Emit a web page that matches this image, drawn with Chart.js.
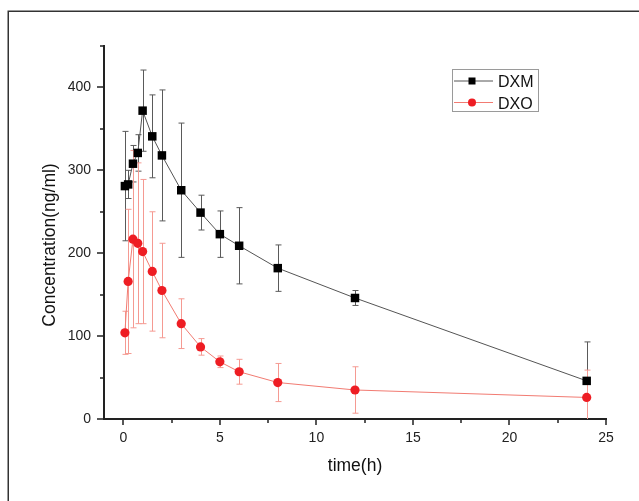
<!DOCTYPE html>
<html><head><meta charset="utf-8">
<script src="https://cdn.jsdelivr.net/npm/chart.js@4/dist/chart.umd.min.js"></script>
<style>html,body{margin:0;padding:0;background:#fff;overflow:hidden;}#wrap{width:639px;height:501px;position:relative;}</style>
</head><body><div id="wrap"><canvas id="c" width="639" height="501"></canvas></div>
<script>
const times = [0.083, 0.25, 0.5, 0.75, 1, 1.5, 2, 3, 4, 5, 6, 8, 12, 24];
const dxmMean = [281, 283, 308, 321, 372, 341, 318, 276, 249, 223, 209, 182, 146, 46];
const dxmSD   = [66, 17, 22, 22, 49, 50, 79, 81, 21, 28, 46, 28, 9, 47];
const dxoMean = [104, 166, 217, 212, 202, 178, 155, 115, 87, 69, 57, 44, 35, 26];
const dxoSD   = [26, 87, 107, 97, 87, 72, 57, 30, 10, 7, 15, 23, 28, 33];
const seriesNames = ['DXM', 'DXO'];
const xTicks = [0, 5, 10, 15, 20, 25];
const xMinorTicks = [2.5, 7.5, 12.5, 17.5, 22.5];
const yTicks = [0, 100, 200, 300, 400];
const yMinorTicks = [50, 150, 250, 350, 450];
const xTitle = 'time(h)';
const yTitle = 'Concentration(ng/ml)';

const FONT = '"Liberation Sans", Arial, sans-serif';
const errSets = [
  {mean: dxmMean, sd: dxmSD, color: '#5a5a5a'},
  {mean: dxoMean, sd: dxoSD, color: '#f59a92'}
];

const decor = {
  id: 'decor',
  beforeDraw(chart) {
    const ctx = chart.ctx;
    ctx.save();
    ctx.fillStyle = '#fff';
    ctx.fillRect(0, 0, chart.width, chart.height);
    ctx.strokeStyle = '#333';
    ctx.lineWidth = 1.5;
    ctx.strokeRect(8.25, 11.25, 800, 800);
    ctx.restore();
  },
  beforeDatasetsDraw(chart) {
    const ctx = chart.ctx, a = chart.chartArea;
    const xs = chart.scales.x, ys = chart.scales.y;
    ctx.save();
    ctx.beginPath();
    ctx.rect(a.left, a.top, a.right - a.left, a.bottom - a.top);
    ctx.clip();
    errSets.forEach(s => {
      ctx.strokeStyle = s.color;
      ctx.lineWidth = 1;
      times.forEach((t, i) => {
        const x = Math.round(xs.getPixelForValue(t)) + 0.5;
        const y1 = ys.getPixelForValue(s.mean[i] + s.sd[i]);
        const y2 = ys.getPixelForValue(s.mean[i] - s.sd[i]);
        ctx.beginPath();
        ctx.moveTo(x, y1); ctx.lineTo(x, y2);
        ctx.moveTo(x - 3, y1); ctx.lineTo(x + 3, y1);
        ctx.moveTo(x - 3, y2); ctx.lineTo(x + 3, y2);
        ctx.stroke();
      });
    });
    ctx.restore();
  },
  afterDraw(chart) {
    const ctx = chart.ctx, a = chart.chartArea;
    const xs = chart.scales.x, ys = chart.scales.y;
    ctx.save();
    // ticks
    ctx.strokeStyle = '#222';
    ctx.lineWidth = 1.5;
    ctx.beginPath();
    xTicks.forEach(v => { const x = Math.round(xs.getPixelForValue(v)); ctx.moveTo(x, a.bottom); ctx.lineTo(x, a.bottom + 6); });
    xMinorTicks.forEach(v => { const x = Math.round(xs.getPixelForValue(v)); ctx.moveTo(x, a.bottom); ctx.lineTo(x, a.bottom + 4); });
    yTicks.forEach(v => { const y = Math.round(ys.getPixelForValue(v)); ctx.moveTo(a.left, y); ctx.lineTo(a.left - 7, y); });
    yMinorTicks.forEach(v => { const y = Math.round(ys.getPixelForValue(v)); ctx.moveTo(a.left, y); ctx.lineTo(a.left - 4, y); });
    ctx.stroke();
    // axis titles
    ctx.fillStyle = '#111';
    ctx.font = '17.5px ' + FONT;
    ctx.textAlign = 'center';
    ctx.textBaseline = 'middle';
    ctx.fillText(xTitle, (a.left + a.right) / 2, 466);
    ctx.save();
    ctx.translate(50, 245);
    ctx.rotate(-Math.PI / 2);
    ctx.fillText(yTitle, 0, 0);
    ctx.restore();
    // legend
    ctx.strokeStyle = '#9a9a9a';
    ctx.lineWidth = 1;
    ctx.strokeRect(452.5, 69.5, 86, 42);
    const rows = [
      {y: 81, line: '#555', fill: '#000', shape: 'rect'},
      {y: 102.5, line: '#f27b72', fill: '#ee1d23', shape: 'circle'}
    ];
    ctx.font = '16px ' + FONT;
    ctx.textAlign = 'left';
    ctx.textBaseline = 'alphabetic';
    rows.forEach((r, i) => {
      ctx.strokeStyle = r.line;
      ctx.beginPath(); ctx.moveTo(454, r.y); ctx.lineTo(493, r.y); ctx.stroke();
      ctx.fillStyle = r.fill;
      if (r.shape === 'rect') ctx.fillRect(468.5, r.y - 3.5, 7, 7);
      else { ctx.beginPath(); ctx.arc(472, r.y, 4, 0, Math.PI * 2); ctx.fill(); }
      ctx.fillStyle = '#111';
      ctx.fillText(seriesNames[i], 498, r.y + 6);
    });
    ctx.restore();
  }
};

new Chart(document.getElementById('c'), {
  type: 'line',
  data: {
    datasets: [
      {
        label: seriesNames[0],
        data: times.map((t, i) => ({x: t, y: dxmMean[i]})),
        borderColor: '#555',
        borderWidth: 1,
        pointStyle: 'rect',
        pointRadius: 6,
        pointBackgroundColor: '#000',
        pointBorderColor: '#000',
        pointBorderWidth: 0,
        tension: 0
      },
      {
        label: seriesNames[1],
        data: times.map((t, i) => ({x: t, y: dxoMean[i]})),
        borderColor: '#f27b72',
        borderWidth: 1,
        pointStyle: 'circle',
        pointRadius: 4.6,
        pointBackgroundColor: '#ee1d23',
        pointBorderColor: '#ee1d23',
        pointBorderWidth: 0,
        tension: 0
      }
    ]
  },
  options: {
    responsive: false,
    animation: false,
    devicePixelRatio: 1,
    layout: {padding: {left: 0, right: 33, top: 46, bottom: 0}},
    plugins: {legend: {display: false}, tooltip: {enabled: false}},
    scales: {
      x: {
        type: 'linear', min: -1, max: 25,
        afterBuildTicks: s => { s.ticks = xTicks.map(v => ({value: v})); },
        afterFit: s => { s.height = 82; },
        grid: {display: false, drawTicks: false},
        border: {display: true, color: '#222', width: 2},
        ticks: {padding: 11, color: '#222', font: {family: FONT, size: 14}, maxRotation: 0}
      },
      y: {
        type: 'linear', min: 0, max: 450,
        afterBuildTicks: s => { s.ticks = yTicks.map(v => ({value: v})); },
        afterFit: s => { s.width = 104; },
        grid: {display: false, drawTicks: false},
        border: {display: true, color: '#222', width: 2},
        ticks: {padding: 13, color: '#222', font: {family: FONT, size: 14}}
      }
    }
  },
  plugins: [decor]
});
</script>
</body></html>
